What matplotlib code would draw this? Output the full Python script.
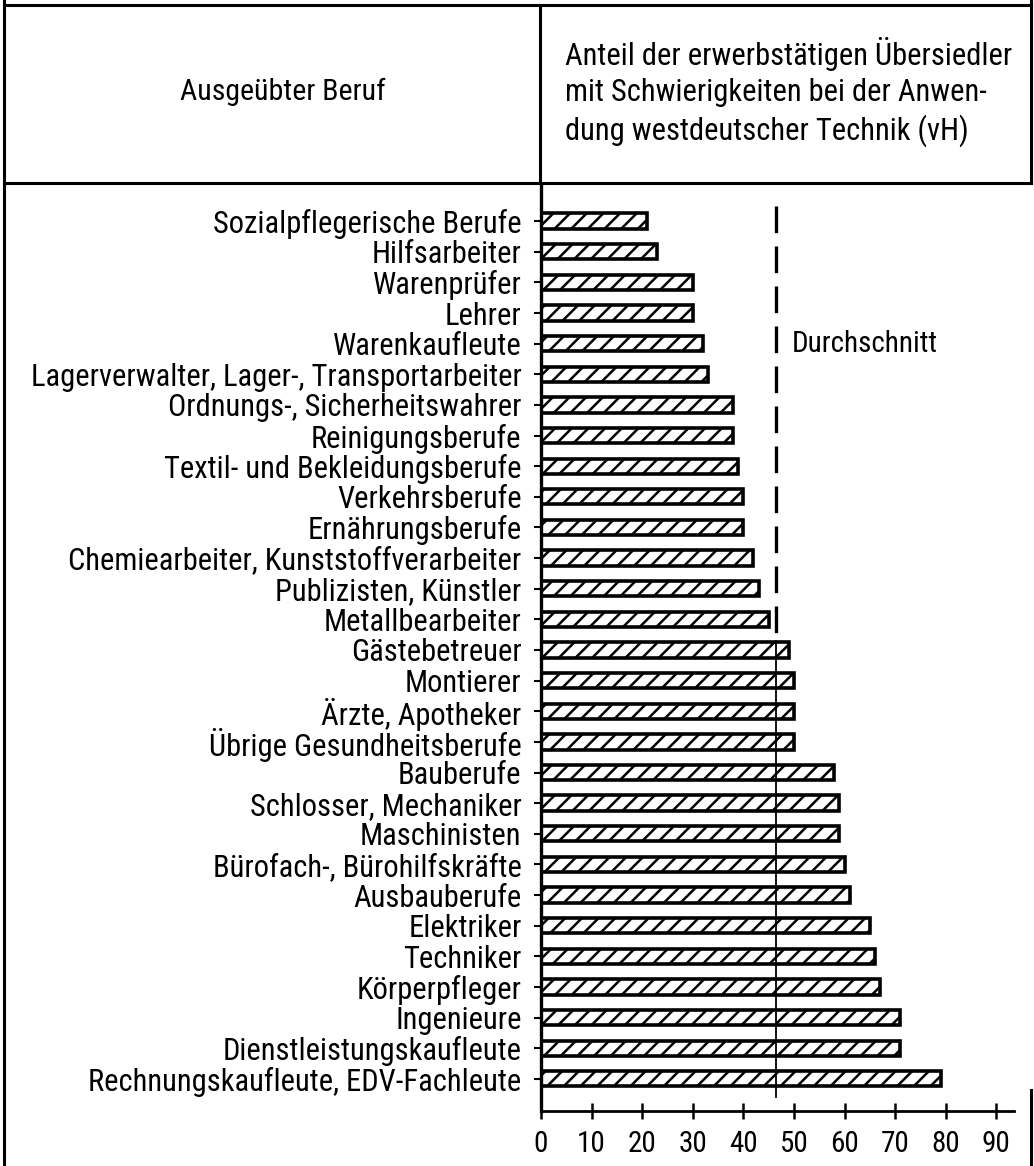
import matplotlib.pyplot as plt
import matplotlib.lines as mlines

plt.rcParams['font.family'] = ['Roboto Condensed', 'DejaVu Sans']
plt.rcParams['hatch.linewidth'] = 1.8

# Daten
berufe = ["Sozialpflegerische Berufe", "Hilfsarbeiter", "Warenprüfer", "Lehrer",
          "Warenkaufleute", "Lagerverwalter, Lager-, Transportarbeiter",
          "Ordnungs-, Sicherheitswahrer", "Reinigungsberufe",
          "Textil- und Bekleidungsberufe", "Verkehrsberufe", "Ernährungsberufe",
          "Chemiearbeiter, Kunststoffverarbeiter", "Publizisten, Künstler",
          "Metallbearbeiter", "Gästebetreuer", "Montierer", "Ärzte, Apotheker",
          "Übrige Gesundheitsberufe", "Bauberufe", "Schlosser, Mechaniker",
          "Maschinisten", "Bürofach-, Bürohilfskräfte", "Ausbauberufe",
          "Elektriker", "Techniker", "Körperpfleger", "Ingenieure",
          "Dienstleistungskaufleute", "Rechnungskaufleute, EDV-Fachleute"]
anteil = [21, 23, 30, 30, 32, 33, 38, 38, 39, 40, 40, 42, 43, 45, 49, 50, 50, 50,
          58, 59, 59, 60, 61, 65, 66, 67, 71, 71, 79]
durchschnitt = 46.5
xticks = [0, 10, 20, 30, 40, 50, 60, 70, 80, 90]

W, H = 1034, 1166
fig = plt.figure(figsize=(W / 100, H / 100), dpi=100)

def fx(px):
    return px / W

def fy(py):
    return 1 - py / H

# Rahmen / Kopf
def line(x0, y0, x1, y1, lw=2.2):
    fig.add_artist(mlines.Line2D([fx(x0), fx(x1)], [fy(y0), fy(y1)], color='black', lw=lw))

line(4, 0, 4, H)
line(4, 5, 1031, 5)
line(4, 183, 1031, 183)
line(540, 5, 540, 183)
line(1031, 0, 1031, 183)
line(1031, 1090, 1031, H)

fig.text(fx(283), fy(92), "Ausgeübter Beruf", ha='center', va='center', fontsize=21.5)
fig.text(fx(565), fy(92),
         "Anteil der erwerbstätigen Übersiedler\nmit Schwierigkeiten bei der Anwen-\ndung westdeutscher Technik (vH)",
         ha='left', va='center', fontsize=22, linespacing=1.3)

# Diagramm
ax = fig.add_axes([fx(541), fy(1111), fx(1014) - fx(541), fy(185) - fy(1111)])
pos = list(range(len(berufe)))
ax.barh(pos, anteil, height=0.5, color='white', edgecolor='black', linewidth=2.6,
        hatch='//', zorder=2)

ax.set_ylim(len(berufe) - 1 + 1.05, -1.18)
ax.set_xlim(0, 93.5)

ax.plot([durchschnitt, durchschnitt], [-0.5, 13.7], color='black', lw=2.4,
        dashes=(8, 4), zorder=3)
ax.plot([durchschnitt, durchschnitt], [13.7, 28.6], color='black', lw=1.3, zorder=3)
ax.text(49.5, 4, "Durchschnitt", ha='left', va='center', fontsize=21)

ax.set_yticks(pos)
ax.set_yticklabels(berufe, fontsize=22)
ax.set_xticks(xticks)
ax.set_xticklabels([str(v) for v in xticks], fontsize=21)
ax.tick_params(axis='y', direction='out', length=5, width=1.5, pad=9)
ax.tick_params(axis='x', direction='inout', length=11, width=1.8, pad=8)

for s in ['top', 'right']:
    ax.spines[s].set_visible(False)
ax.spines['left'].set_linewidth(2.4)
ax.spines['bottom'].set_linewidth(2.0)

fig.savefig("out.png", dpi=100)
